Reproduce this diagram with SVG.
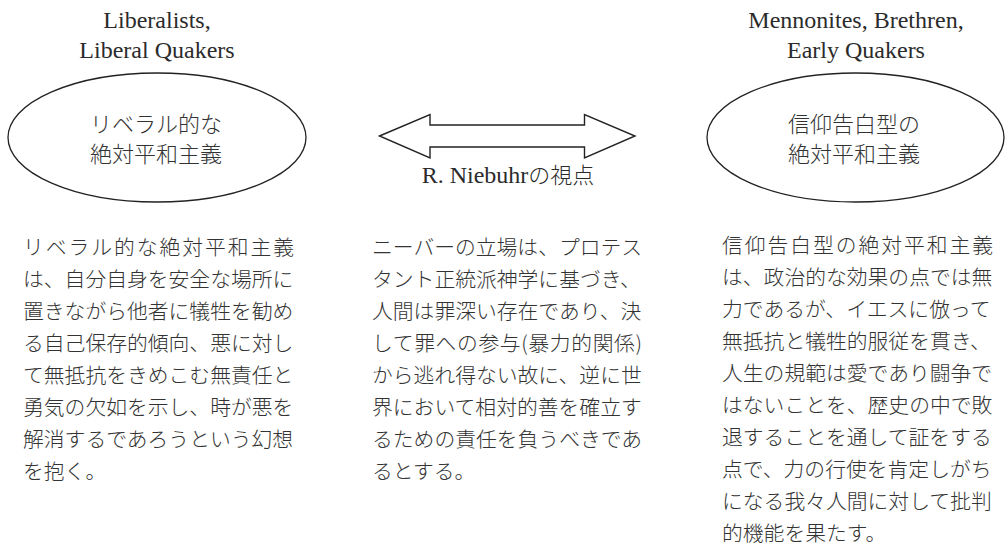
<svg xmlns="http://www.w3.org/2000/svg" width="1005" height="547" viewBox="0 0 1005 547">
<style>
.bg{fill:#ffffff}
.ttl{font-family:"Liberation Serif","Noto Sans CJK JP",serif;font-size:24px;fill:#2b2b2b;text-anchor:middle}
.lbl{font-family:"Noto Sans CJK JP","Liberation Serif",sans-serif;font-size:22px;font-weight:300;fill:#333;text-anchor:middle}
.body{font-family:"Noto Sans CJK JP","Liberation Serif",sans-serif;font-size:20.8px;font-weight:300;fill:#333}
.ell{fill:none;stroke:#222;stroke-width:1.3}
.arr{fill:#fff;stroke:#222;stroke-width:1.4;stroke-linejoin:miter}
</style>
<rect class="bg" x="0" y="0" width="1005" height="547"/>

<g id="node-liberal">
  <text class="ttl" x="157" y="28">Liberalists,</text>
  <text class="ttl" x="157" y="58">Liberal Quakers</text>
  <ellipse class="ell" cx="157" cy="137.5" rx="149" ry="64.5"/>
  <text class="lbl" x="156" y="131.5">リベラル的な</text>
  <text class="lbl" x="156" y="161.5">絶対平和主義</text>
</g>

<g id="node-confessional">
  <text class="ttl" x="856" y="28">Mennonites, Brethren,</text>
  <text class="ttl" x="856" y="58">Early Quakers</text>
  <ellipse class="ell" cx="855.5" cy="137.5" rx="148.5" ry="64.5"/>
  <text class="lbl" x="854" y="131.5">信仰告白型の</text>
  <text class="lbl" x="854" y="161.5">絶対平和主義</text>
</g>

<g id="connectors">
  <polygon class="arr" points="379.5,136 430,114.5 430,125 584.5,125 584.5,114.5 635,136 584.5,158 584.5,147 430,147 430,158"/>
  <text class="ttl" x="508" y="183">R. Niebuhr<tspan font-family="Noto Sans CJK JP, sans-serif" font-size="22" font-weight="300">の視点</tspan></text>
</g>

<g id="text-liberal">
  <text class="body" x="23" y="254.5" textLength="271" lengthAdjust="spacing">リベラル的な絶対平和主義</text>
  <text class="body" x="23" y="286.6">は、自分自身を安全な場所に</text>
  <text class="body" x="23" y="318.7">置きながら他者に犠牲を勧め</text>
  <text class="body" x="23" y="350.8">る自己保存的傾向、悪に対し</text>
  <text class="body" x="23" y="382.9">て無抵抗をきめこむ無責任と</text>
  <text class="body" x="23" y="415">勇気の欠如を示し、時が悪を</text>
  <text class="body" x="23" y="447.1">解消するであろうという幻想</text>
  <text class="body" x="23" y="479.2">を抱く。</text>
</g>

<g id="text-niebuhr">
  <text class="body" x="372" y="254.5">ニーバーの立場は、プロテス</text>
  <text class="body" x="372" y="286.6">タント正統派神学に基づき、</text>
  <text class="body" x="372" y="318.7">人間は罪深い存在であり、決</text>
  <text class="body" x="372" y="350.8" textLength="270" lengthAdjust="spacing">して罪への参与(暴力的関係)</text>
  <text class="body" x="372" y="382.9">から逃れ得ない故に、逆に世</text>
  <text class="body" x="372" y="415">界において相対的善を確立す</text>
  <text class="body" x="372" y="447.1">るための責任を負うべきであ</text>
  <text class="body" x="372" y="479.2">るとする。</text>
</g>

<g id="text-confessional">
  <text class="body" x="722" y="253" textLength="271" lengthAdjust="spacing">信仰告白型の絶対平和主義</text>
  <text class="body" x="722" y="285">は、政治的な効果の点では無</text>
  <text class="body" x="722" y="317">力であるが、イエスに倣って</text>
  <text class="body" x="722" y="349">無抵抗と犠牲的服従を貫き、</text>
  <text class="body" x="722" y="381">人生の規範は愛であり闘争で</text>
  <text class="body" x="722" y="413">はないことを、歴史の中で敗</text>
  <text class="body" x="722" y="445">退することを通して証をする</text>
  <text class="body" x="722" y="477">点で、力の行使を肯定しがち</text>
  <text class="body" x="722" y="509">になる我々人間に対して批判</text>
  <text class="body" x="722" y="541">的機能を果たす。</text>
</g>
</svg>
